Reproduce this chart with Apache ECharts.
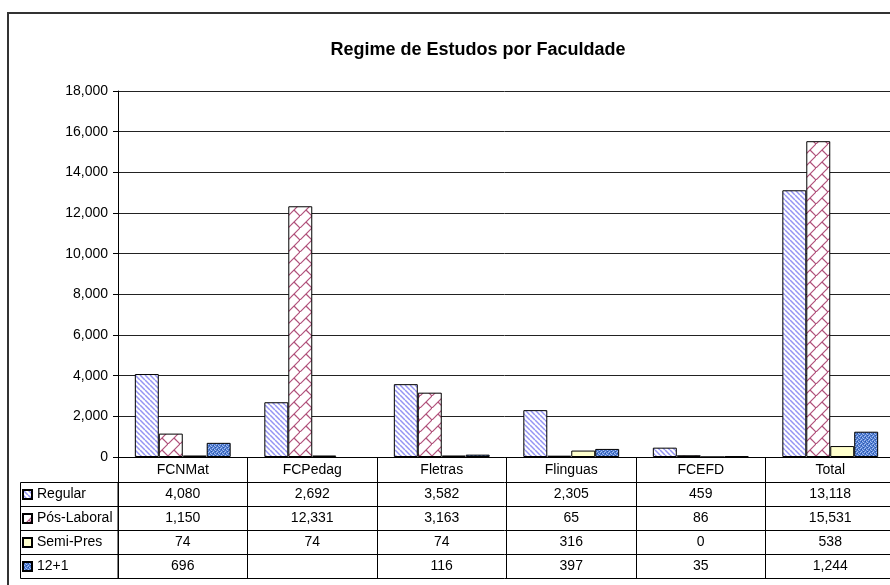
<!DOCTYPE html>
<html>
<head>
<meta charset="utf-8">
<script src="https://cdn.jsdelivr.net/npm/echarts@6/dist/echarts.min.js"></script>
<style>
html,body{margin:0;padding:0;background:#fff;}
#chart{width:890px;height:585px;}
</style>
</head>
<body>
<div id="chart"></div>
<script>
var categories = ['FCNMat', 'FCPedag', 'Fletras', 'Flinguas', 'FCEFD', 'Total'];
var regular = [4080, 2692, 3582, 2305, 459, 13118];
var posLaboral = [1150, 12331, 3163, 65, 86, 15531];
var semiPres = [74, 74, 74, 316, 0, 538];
var dozeMaisUm = [696, null, 116, 397, 35, 1244];
var seriesNames = ['Regular', 'Pós-Laboral', 'Semi-Pres', '12+1'];
var yMin = 0, yMax = 18000, yStep = 2000;

var FONT = 'Liberation Sans';

function fmt(v) {
  if (v === null || v === undefined) return '';
  return String(v).replace(/\B(?=(\d{3})+(?!\d))/g, ',');
}

function makeCanvas(w, h, draw) {
  var c = document.createElement('canvas');
  c.width = w; c.height = h;
  draw(c.getContext('2d'), w, h);
  return c;
}

// padrões de preenchimento (estilo Excel)
var stripes = makeCanvas(5, 5, function (ctx) {
  ctx.fillStyle = '#fff'; ctx.fillRect(0, 0, 5, 5);
  ctx.strokeStyle = '#9494f4'; ctx.lineWidth = 1.5;
  for (var k = -1; k <= 1; k++) {
    ctx.beginPath(); ctx.moveTo(0, 5 * k); ctx.lineTo(5, 5 + 5 * k); ctx.stroke();
  }
});
var bricks = makeCanvas(12, 12, function (ctx) {
  ctx.fillStyle = '#fff'; ctx.fillRect(0, 0, 12, 12);
  ctx.strokeStyle = '#b0507a'; ctx.lineWidth = 1.2;
  for (var k = 0; k <= 2; k++) {
    ctx.beginPath(); ctx.moveTo(0, 12 * k); ctx.lineTo(12 * k, 0); ctx.stroke();
  }
  ctx.beginPath(); ctx.moveTo(6, 6); ctx.lineTo(12, 12); ctx.stroke();
});
var tissue = makeCanvas(4, 4, function (ctx) {
  ctx.fillStyle = '#4f7bd0'; ctx.fillRect(0, 0, 4, 4);
  ctx.fillStyle = '#a8c0ee';
  [[0, 0], [2, 1], [1, 3], [3, 2]].forEach(function (p) { ctx.fillRect(p[0], p[1], 1, 1); });
  ctx.fillStyle = '#2a56a8';
  [[1, 1], [3, 3]].forEach(function (p) { ctx.fillRect(p[0], p[1], 1, 1); });
});

var fills = [
  { image: stripes, repeat: 'repeat' },
  { image: bricks, repeat: 'repeat' },
  '#ffffcc',
  { image: tissue, repeat: 'repeat' }
];
var seriesData = [regular, posLaboral, semiPres, dozeMaisUm];

var HEADER_H = 25.5, ROW_H = 24;

function rowAxis(values, i) {
  return {
    type: 'category',
    gridIndex: 0,
    position: 'bottom',
    data: values.map(fmt),
    offset: HEADER_H + ROW_H * i,
    axisLine: { show: true, lineStyle: { color: '#000', width: 1 } },
    axisTick: { show: true, length: ROW_H, lineStyle: { color: '#000' } },
    axisLabel: { interval: 0, margin: 5, fontSize: 14, color: '#000', fontFamily: FONT },
    splitLine: { show: false }
  };
}

var xAxes = [{
  type: 'category',
  data: categories,
  axisLine: { show: true, lineStyle: { color: '#000', width: 1 } },
  axisTick: { show: true, length: HEADER_H, lineStyle: { color: '#000' } },
  axisLabel: { interval: 0, margin: 6, fontSize: 14, color: '#000', fontFamily: FONT }
}];
seriesData.forEach(function (vals, i) { xAxes.push(rowAxis(vals, i)); });
// linha de fecho da tabela
xAxes.push({
  type: 'category', data: categories, position: 'bottom',
  offset: HEADER_H + ROW_H * 4,
  axisLine: { show: true, lineStyle: { color: '#000', width: 1 } },
  axisTick: { show: false }, axisLabel: { show: false }
});

var tableTop = 457 + HEADER_H;
var chart = echarts.init(document.getElementById('chart'));
var option = {
  animation: false,
  backgroundColor: '#fff',
  title: {
    text: 'Regime de Estudos por Faculdade',
    left: 473, top: 36, textAlign: 'center',
    textStyle: { fontFamily: FONT, fontSize: 18, fontWeight: 'bold', color: '#000' }
  },
  legend: {
    orient: 'vertical',
    left: 22, top: tableTop + 4, padding: 0,
    itemWidth: 9, itemHeight: 9, itemGap: 8,
    icon: 'rect', selectedMode: false,
    textStyle: { fontFamily: FONT, fontSize: 14, color: '#000', lineHeight: 16 },
    data: seriesNames
  },
  grid: { left: 118, top: 91, width: 777, height: 366, containLabel: false, outerBoundsMode: 'none' },
  xAxis: xAxes,
  yAxis: {
    type: 'value', min: yMin, max: yMax, interval: yStep,
    axisLine: { show: true, lineStyle: { color: '#000' } },
    axisTick: { show: true, length: 5, lineStyle: { color: '#000' } },
    axisLabel: { margin: 10, fontSize: 14, color: '#000', fontFamily: FONT, formatter: fmt },
    splitLine: { show: true, lineStyle: { color: '#222', width: 1 } }
  },
  graphic: [
    { type: 'rect', shape: { x: 8, y: 13, width: 950, height: 650 }, style: { fill: 'none', stroke: '#333', lineWidth: 2 }, silent: true },
    { type: 'rect', shape: { x: 20.5, y: tableTop, width: 97.5, height: ROW_H * 4 }, style: { fill: 'none', stroke: '#000', lineWidth: 1 }, silent: true },
    { type: 'line', shape: { x1: 20.5, y1: tableTop + ROW_H, x2: 118, y2: tableTop + ROW_H }, style: { stroke: '#000', lineWidth: 1 }, silent: true },
    { type: 'line', shape: { x1: 20.5, y1: tableTop + ROW_H * 2, x2: 118, y2: tableTop + ROW_H * 2 }, style: { stroke: '#000', lineWidth: 1 }, silent: true },
    { type: 'line', shape: { x1: 20.5, y1: tableTop + ROW_H * 3, x2: 118, y2: tableTop + ROW_H * 3 }, style: { stroke: '#000', lineWidth: 1 }, silent: true }
  ],
  series: seriesNames.map(function (name, i) {
    return {
      name: name,
      type: 'bar',
      xAxisIndex: 0,
      yAxisIndex: 0,
      data: seriesData[i],
      barGap: '0%',
      barCategoryGap: '26%',
      itemStyle: { color: fills[i], borderColor: '#000', borderWidth: 1 },
      emphasis: { disabled: true }
    };
  })
};
chart.setOption(option);
</script>
</body>
</html>
